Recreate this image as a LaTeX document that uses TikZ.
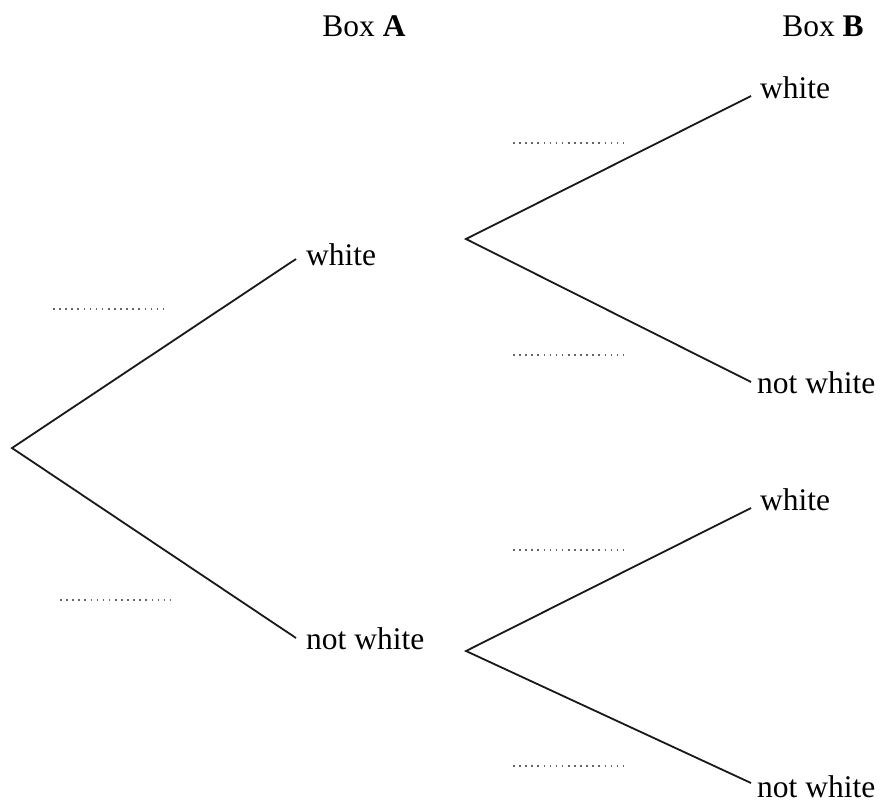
\documentclass[tikz,border=0pt]{standalone}
\usepackage{fontspec}
\setmainfont{Liberation Serif}
\begin{document}
\begin{tikzpicture}[x=1pt,y=-1pt,
  lbl/.style={inner sep=0pt,anchor=base west,font=\fontsize{31.5}{38}\selectfont},
  branch/.style={line width=1.8pt,black!90},
  answer/.style={line width=1.6pt,black!60,dash pattern=on 1.6pt off 4.5pt}]
\useasboundingbox (0,0) rectangle (882,805);
% headings
\node[lbl,anchor=base] (hA) at (364,37) {Box \textbf{A}};
\node[lbl,anchor=base] (hB) at (823,37) {Box \textbf{B}};
% points
\coordinate (r) at (12,448);
\coordinate (a1) at (296,259);
\coordinate (a2) at (296,638);
\coordinate (b1) at (466,239);
\coordinate (b2) at (466,651);
\coordinate (c1) at (751,96);
\coordinate (c2) at (751,382);
\coordinate (c3) at (751,508);
\coordinate (c4) at (751,783);
% labels
\node[lbl] (tA1) at (306,265) {white};
\node[lbl] (tA2) at (306,649) {not white};
\node[lbl] (tB1) at (760,99) {white};
\node[lbl] (tB2) at (757,393) {not white};
\node[lbl] (tB3) at (760,510) {white};
\node[lbl] (tB4) at (757,797) {not white};
% branches
\draw[branch] (a1) -- (r) -- (a2);
\draw[branch] (c1) -- (b1) -- (c2);
\draw[branch] (c3) -- (b2) -- (c4);
% answer spaces
\draw[answer] (53,309) -- (163,309);
\draw[answer] (60,600) -- (170,600);
\draw[answer] (513,143) -- (623,143);
\draw[answer] (513,355) -- (623,355);
\draw[answer] (513,550) -- (623,550);
\draw[answer] (513,766) -- (623,766);
\end{tikzpicture}
\end{document}
